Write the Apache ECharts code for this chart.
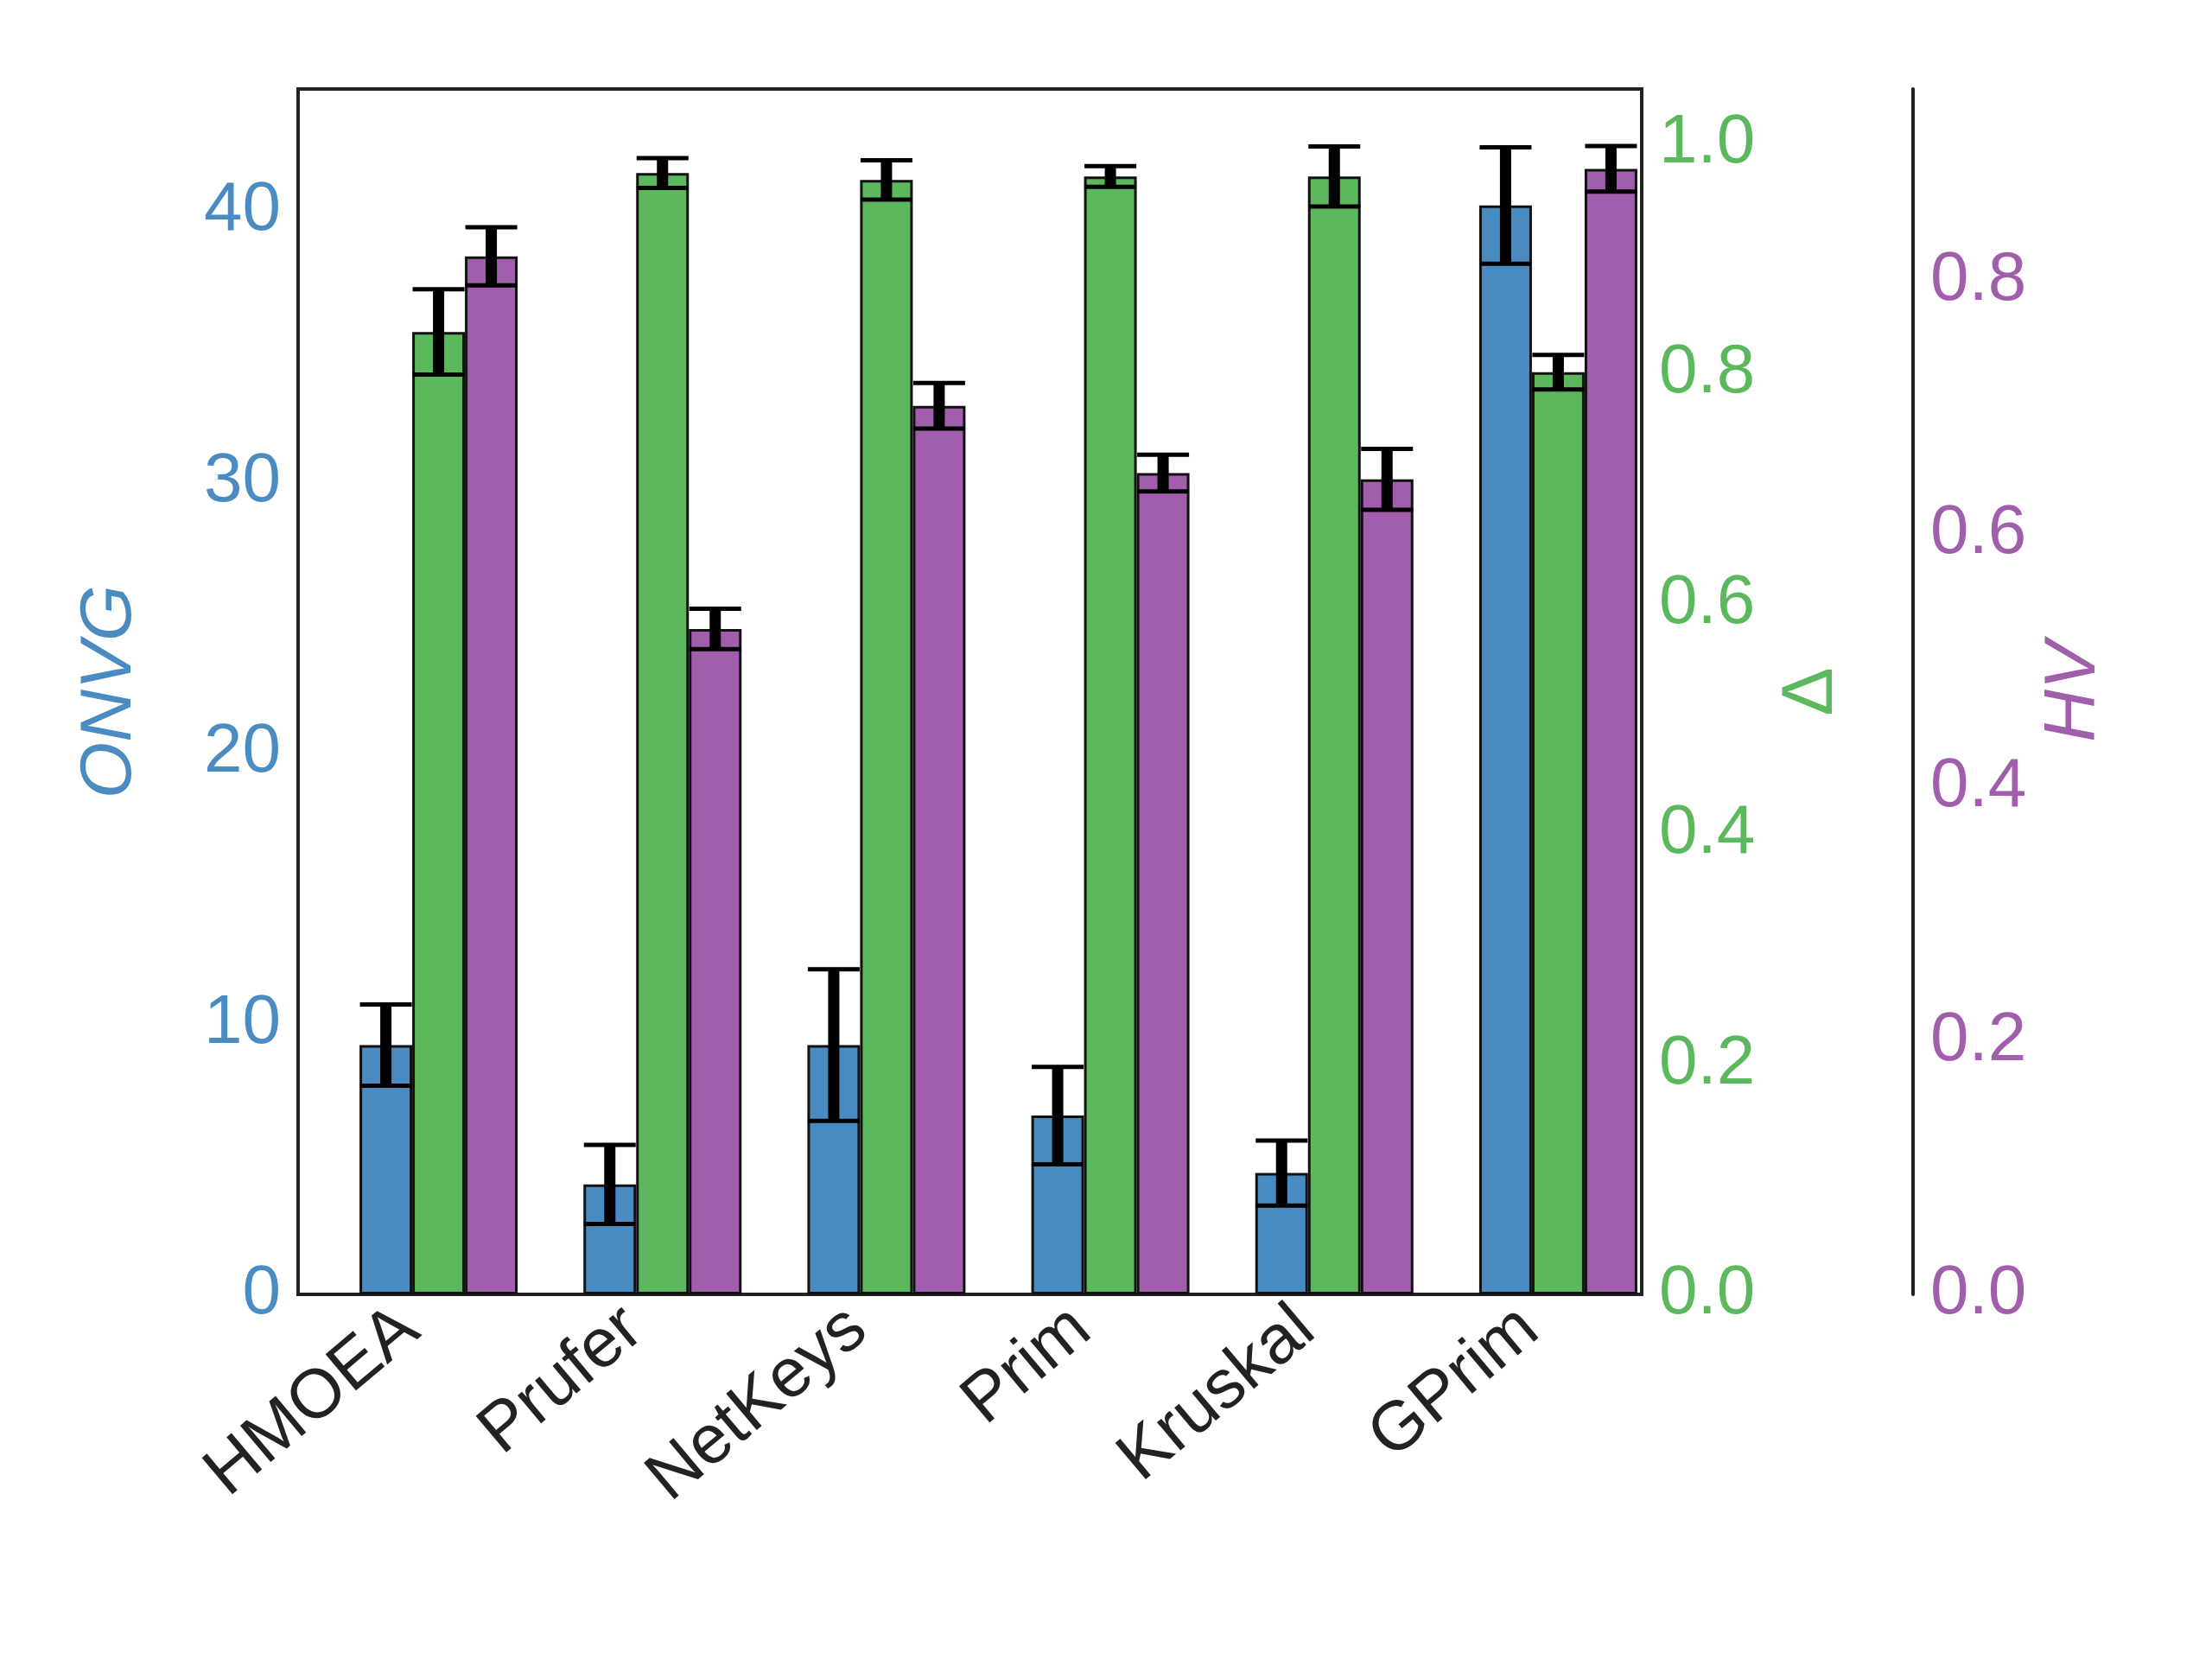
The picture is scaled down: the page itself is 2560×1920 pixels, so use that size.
<!DOCTYPE html>
<html><head><meta charset="utf-8">
<script src="https://cdn.jsdelivr.net/npm/echarts@6/dist/echarts.min.js"></script>
<style>html,body{margin:0;background:#fff}#c{width:2560px;height:1920px}</style>
</head><body><div id="c"></div>
<script>
// 数据
const methods = ['HMOEA', 'Prufer', 'NetKeys', 'Prim', 'Kruskal', 'GPrim'];
const onvg = [9.2, 4.06, 9.2, 6.6, 4.48, 40.2];
const onvgErr = [1.5, 1.46, 2.8, 1.8, 1.2, 2.15];
const delta = [0.836, 0.974, 0.968, 0.971, 0.971, 0.801];
const deltaErr = [0.037, 0.013, 0.017, 0.009, 0.026, 0.015];
const hv = [0.819, 0.525, 0.701, 0.648, 0.643, 0.888];
const hvErr = [0.023, 0.016, 0.018, 0.0145, 0.024, 0.018];

const BLUE = '#4a8bc2', GREEN = '#5cb85c', PURPLE = '#a05eac';
const BW = 61;
const SHIFT = 33;
const font = 'Liberation Sans, Arial, sans-serif';

const chart = echarts.init(document.getElementById('c'));

const errSeries = (vals, errs, axis, idx) => ({
    type: 'custom',
    yAxisIndex: axis,
    z: 10,
    data: vals.map((v, i) => [i, v - errs[i], v + errs[i]]),
    renderItem: (params, api) => {
        const lo = api.coord([api.value(0), api.value(1)]);
        const hi = api.coord([api.value(0), api.value(2)]);
        const x = lo[0] + SHIFT + (idx - 1) * BW;
        const st = { stroke: '#000', lineWidth: 5 };
        return {
            type: 'group',
            children: [
                { type: 'line', shape: { x1: x, y1: lo[1], x2: x, y2: hi[1] }, style: { stroke: '#000', lineWidth: 13 } },
                { type: 'line', shape: { x1: x - 30, y1: lo[1], x2: x + 30, y2: lo[1] }, style: st },
                { type: 'line', shape: { x1: x - 30, y1: hi[1], x2: x + 30, y2: hi[1] }, style: st }
            ]
        };
    }
});

const yAx = (color, name, max, pos, offset, italic, showLine, gap) => ({
    type: 'value', position: pos, offset: offset, min: 0, max: max, interval: pos === 'left' ? 10 : 0.2,
    name: name, nameLocation: 'middle', nameRotate: 90, nameGap: gap,
    nameTextStyle: { color: color, fontSize: 84, fontStyle: italic ? 'italic' : 'normal', fontFamily: font },
    axisLine: { show: showLine, lineStyle: { color: '#222', width: 4 } },
    axisTick: { show: false }, splitLine: { show: false },
    axisLabel: {
        color: color, fontSize: 80, fontFamily: font, margin: 20, showMaxLabel: false,
        formatter: v => pos === 'left' ? v : v.toFixed(1)
    }
});

chart.setOption({
    backgroundColor: '#fff',
    animation: false,
    grid: { left: 345, right: 660, top: 103, bottom: 422, show: true, borderColor: '#222', borderWidth: 4 },
    xAxis: {
        type: 'category', data: methods,
        axisLine: { show: false }, axisTick: { show: false },
        axisLabel: { rotate: 40, color: '#222', fontSize: 80, fontFamily: font, margin: 30 }
    },
    yAxis: [
        yAx(BLUE, 'ONVG', 44.5, 'left', 0, true, false, 175),
        yAx(GREEN, 'Δ', 1.047, 'right', 0, false, false, 155),
        yAx(PURPLE, 'HV', 0.951, 'right', 314, true, true, 145)
    ],
    series: [
        { type: 'bar', yAxisIndex: 0, data: onvg.map(() => 0), barWidth: 2 * SHIFT, barGap: '0%', itemStyle: { color: 'rgba(0,0,0,0)', borderWidth: 0 }, silent: true },
        { type: 'bar', yAxisIndex: 0, data: onvg, barWidth: BW, barGap: '0%', itemStyle: { color: BLUE, borderColor: '#111', borderWidth: 3 } },
        { type: 'bar', yAxisIndex: 1, data: delta, barWidth: BW, barGap: '0%', itemStyle: { color: GREEN, borderColor: '#111', borderWidth: 3 } },
        { type: 'bar', yAxisIndex: 2, data: hv, barWidth: BW, barGap: '0%', itemStyle: { color: PURPLE, borderColor: '#111', borderWidth: 3 } },
        errSeries(onvg, onvgErr, 0, 0),
        errSeries(delta, deltaErr, 1, 1),
        errSeries(hv, hvErr, 2, 2)
    ]
});
</script></body></html>
